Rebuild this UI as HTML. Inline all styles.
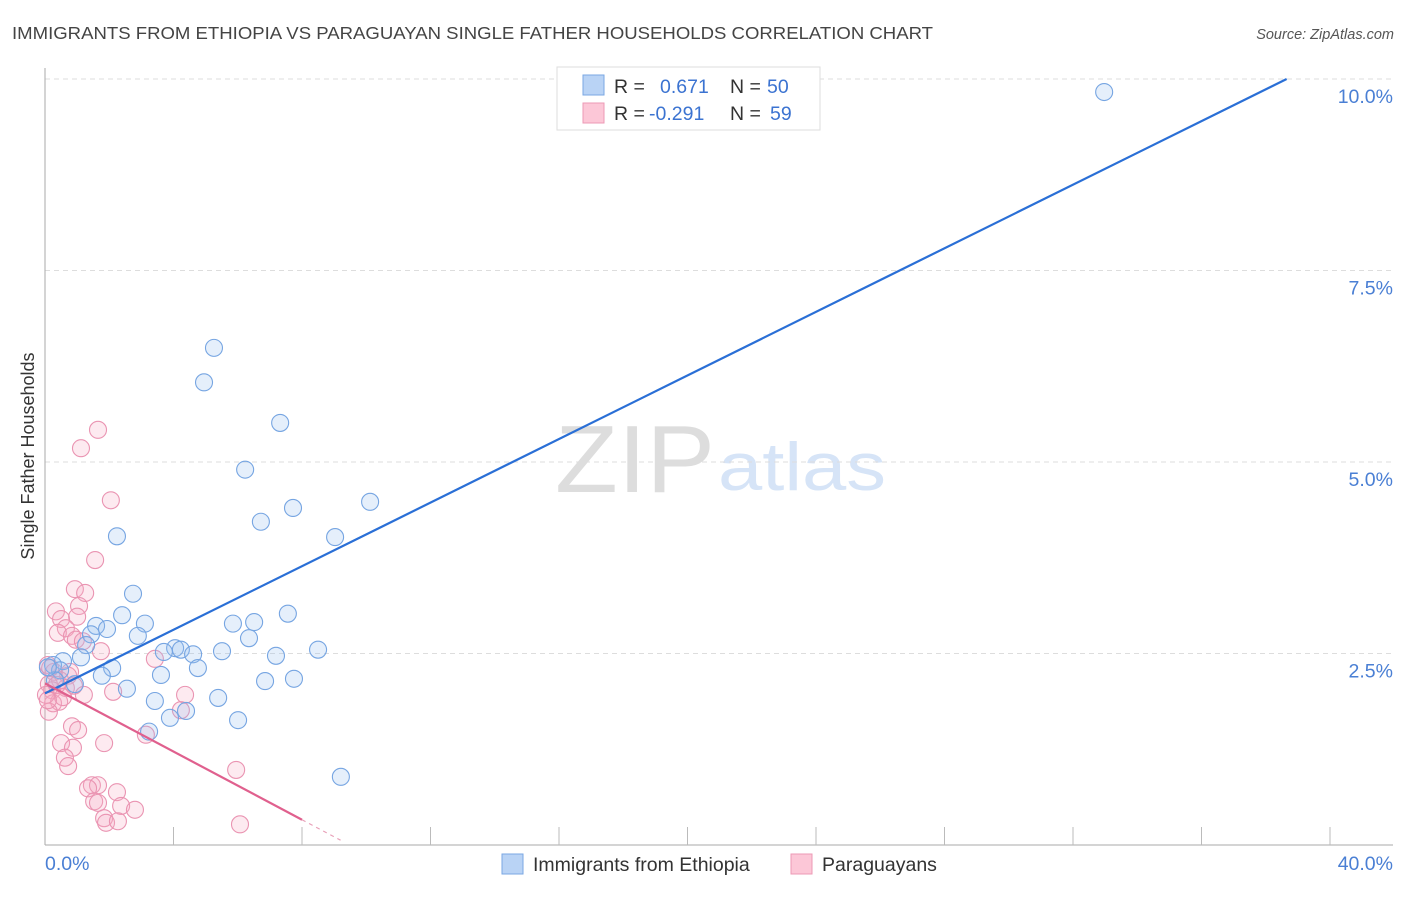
<!DOCTYPE html>
<html><head><meta charset="utf-8"><style>
body{margin:0;background:#fff;font-family:"Liberation Sans",sans-serif}
svg text{font-family:"Liberation Sans",sans-serif}
</style></head><body>
<svg id="chart" width="1406" height="892" viewBox="0 0 1406 892" xmlns="http://www.w3.org/2000/svg">
<text x="12" y="39" font-size="17.5" fill="#444" textLength="921" lengthAdjust="spacingAndGlyphs">IMMIGRANTS FROM ETHIOPIA VS PARAGUAYAN SINGLE FATHER HOUSEHOLDS CORRELATION CHART</text>
<text x="1394" y="39" font-size="14.5" fill="#555" text-anchor="end" font-style="italic">Source: ZipAtlas.com</text>
<g>
<text x="555" y="492" font-size="96" fill="#ddd" font-family="Liberation Serif" textLength="160" lengthAdjust="spacingAndGlyphs">ZIP</text>
<text x="718" y="490" font-size="68" fill="#d6e4f7" textLength="168" lengthAdjust="spacingAndGlyphs">atlas</text>
</g>
<text transform="translate(34,456) rotate(-90)" font-size="18" fill="#333" text-anchor="middle">Single Father Households</text>
<g id="grid"></g>
<g id="axes"></g>
<g id="pink"></g>
<g id="blue"></g>
<g id="lines"></g>
<g>
<rect x="557" y="67" width="263" height="63" fill="#fff" stroke="#ddd"/>
<rect x="583" y="75" width="21" height="20" fill="#b9d3f5" stroke="#7aa7e3"/>
<rect x="583" y="103" width="21" height="20" fill="#fcc7d7" stroke="#ec9ab5"/>
<text x="614" y="93" font-size="19.5" fill="#333">R =</text>
<text x="660" y="93" font-size="19.5" fill="#3b73d1">0.671</text>
<text x="730" y="93" font-size="19.5" fill="#333">N =</text>
<text x="767" y="93" font-size="19.5" fill="#3b73d1">50</text>
<text x="614" y="120" font-size="19.5" fill="#333">R =</text>
<text x="649" y="120" font-size="19.5" fill="#3b73d1">-0.291</text>
<text x="730" y="120" font-size="19.5" fill="#333">N =</text>
<text x="770" y="120" font-size="19.5" fill="#3b73d1">59</text>
</g>
<g>
<rect x="502" y="854" width="21" height="20" fill="#b9d3f5" stroke="#7aa7e3"/>
<text x="533" y="871" font-size="19.5" fill="#333">Immigrants from Ethiopia</text>
<rect x="791" y="854" width="21" height="20" fill="#fcc7d7" stroke="#ec9ab5"/>
<text x="822" y="871" font-size="19.5" fill="#333">Paraguayans</text>
</g>
</svg>
<script>
const yTicks=[2.5,5,7.5,10];
const yTickLabels=["2.5%","5.0%","7.5%","10.0%"];
const blueX=[32.97,5.26,4.95,7.32,6.23,10.12,7.72,6.72,2.24,9.03,2.74,2.40,7.56,3.11,6.51,5.85,1.59,1.93,1.43,2.89,6.35,1.28,4.05,4.23,8.50,3.70,5.51,4.61,1.12,7.19,0.56,0.25,2.09,4.76,3.61,1.77,6.85,7.75,0.93,2.55,5.39,3.42,4.39,3.89,6.01,3.24,9.21,0.47,0.31,0.09];
const blueY=[9.83,6.49,6.04,5.51,4.90,4.48,4.40,4.22,4.03,4.02,3.28,3.00,3.02,2.89,2.91,2.89,2.86,2.82,2.75,2.73,2.70,2.61,2.57,2.55,2.55,2.52,2.53,2.49,2.45,2.47,2.40,2.35,2.31,2.31,2.22,2.21,2.14,2.17,2.10,2.04,1.92,1.88,1.75,1.66,1.63,1.48,0.89,2.28,2.15,2.32];
const pinkX=[1.65,1.12,2.05,1.56,0.93,1.25,0.34,1.06,0.50,1.00,0.65,0.40,0.84,0.96,1.18,1.74,3.42,0.09,0.28,0.72,0.47,0.12,0.65,0.90,0.22,1.21,2.12,4.36,0.25,0.44,0.12,4.23,0.84,1.03,3.14,0.50,0.87,1.84,0.62,0.72,5.95,1.46,1.65,1.34,2.24,1.53,1.65,2.37,2.80,1.84,1.90,2.27,6.07,0.16,0.03,0.37,0.56,0.78,0.09];
const pinkY=[5.42,5.18,4.50,3.72,3.34,3.29,3.05,3.12,2.95,2.98,2.83,2.77,2.73,2.68,2.66,2.53,2.43,2.35,2.26,2.21,2.15,2.10,2.05,2.08,2.02,1.96,2.00,1.96,1.85,1.87,1.74,1.76,1.55,1.50,1.44,1.33,1.27,1.33,1.14,1.03,0.98,0.78,0.78,0.74,0.69,0.57,0.55,0.51,0.46,0.35,0.29,0.31,0.27,2.31,1.96,2.09,1.93,2.26,1.89];
const blueFit=[1.98,0.2075];
const pinkFit=[2.11,-0.2225];
const NS="http://www.w3.org/2000/svg";
const X=v=>45+v*32.125, Y=v=>845-v*76.6;
function mk(p,t,a){const e=document.createElementNS(NS,t);for(const k in a)e.setAttribute(k,a[k]);p.appendChild(e);return e;}
const grid=document.getElementById('grid');
yTicks.forEach((t,i)=>{
 const l=mk(grid,'line',{x1:45,x2:1393,y1:Y(t),y2:Y(t),stroke:'#ddd','stroke-dasharray':'5,4'});
 
 
 const tx=mk(grid,'text',{x:1393,y:Y(t)+24,'font-size':19.5,fill:'#4a7fd4','text-anchor':'end'});
 tx.textContent=yTickLabels[i];
 
 
});
const ax=document.getElementById('axes');
mk(ax,'line',{x1:45,x2:45,y1:68,y2:845,stroke:'#aaa'});
mk(ax,'line',{x1:45,x2:1393,y1:845,y2:845,stroke:'#aaa'});
for(let i=1;i<=10;i++){const t=mk(ax,'line',{x1:X(i*4),x2:X(i*4),y1:827,y2:845,stroke:'#bbb'});
 
 }
let t0=mk(ax,'text',{x:45,y:870,'font-size':19.5,fill:'#4a7fd4'});t0.textContent='0.0%';

let t1=mk(ax,'text',{x:1393,y:870,'font-size':19.5,fill:'#4a7fd4','text-anchor':'end'});t1.textContent='40.0%';

function pts(g,xs,ys,fill,stroke,name){xs.forEach((x,i)=>{const c=mk(g,'circle',{cx:X(x),cy:Y(ys[i]),r:8.5,fill:fill,stroke:stroke,'stroke-width':1.1});
 
 });}
pts(document.getElementById('pink'),pinkX,pinkY,'rgba(248,170,195,0.25)','#ea94b2','paraguayan-point');
pts(document.getElementById('blue'),blueX,blueY,'rgba(150,190,240,0.25)','#76a5e2','ethiopia-point');
const ln=document.getElementById('lines');
const bx2=(10-blueFit[0])/blueFit[1];
const bl=mk(ln,'line',{x1:X(0),y1:Y(blueFit[0]),x2:X(bx2),y2:Y(10),stroke:'#2a6fd6','stroke-width':2.2});


const pl=mk(ln,'line',{x1:X(0),y1:Y(pinkFit[0]),x2:X(8),y2:Y(pinkFit[0]+pinkFit[1]*8),stroke:'#e0608e','stroke-width':2.2});


const pd=mk(ln,'line',{x1:X(8),y1:Y(pinkFit[0]+pinkFit[1]*8),x2:X(9.2),y2:Y(pinkFit[0]+pinkFit[1]*9.2),stroke:'#e8a0b8','stroke-width':1.2,'stroke-dasharray':'4,4'});


</script>
</body></html>
